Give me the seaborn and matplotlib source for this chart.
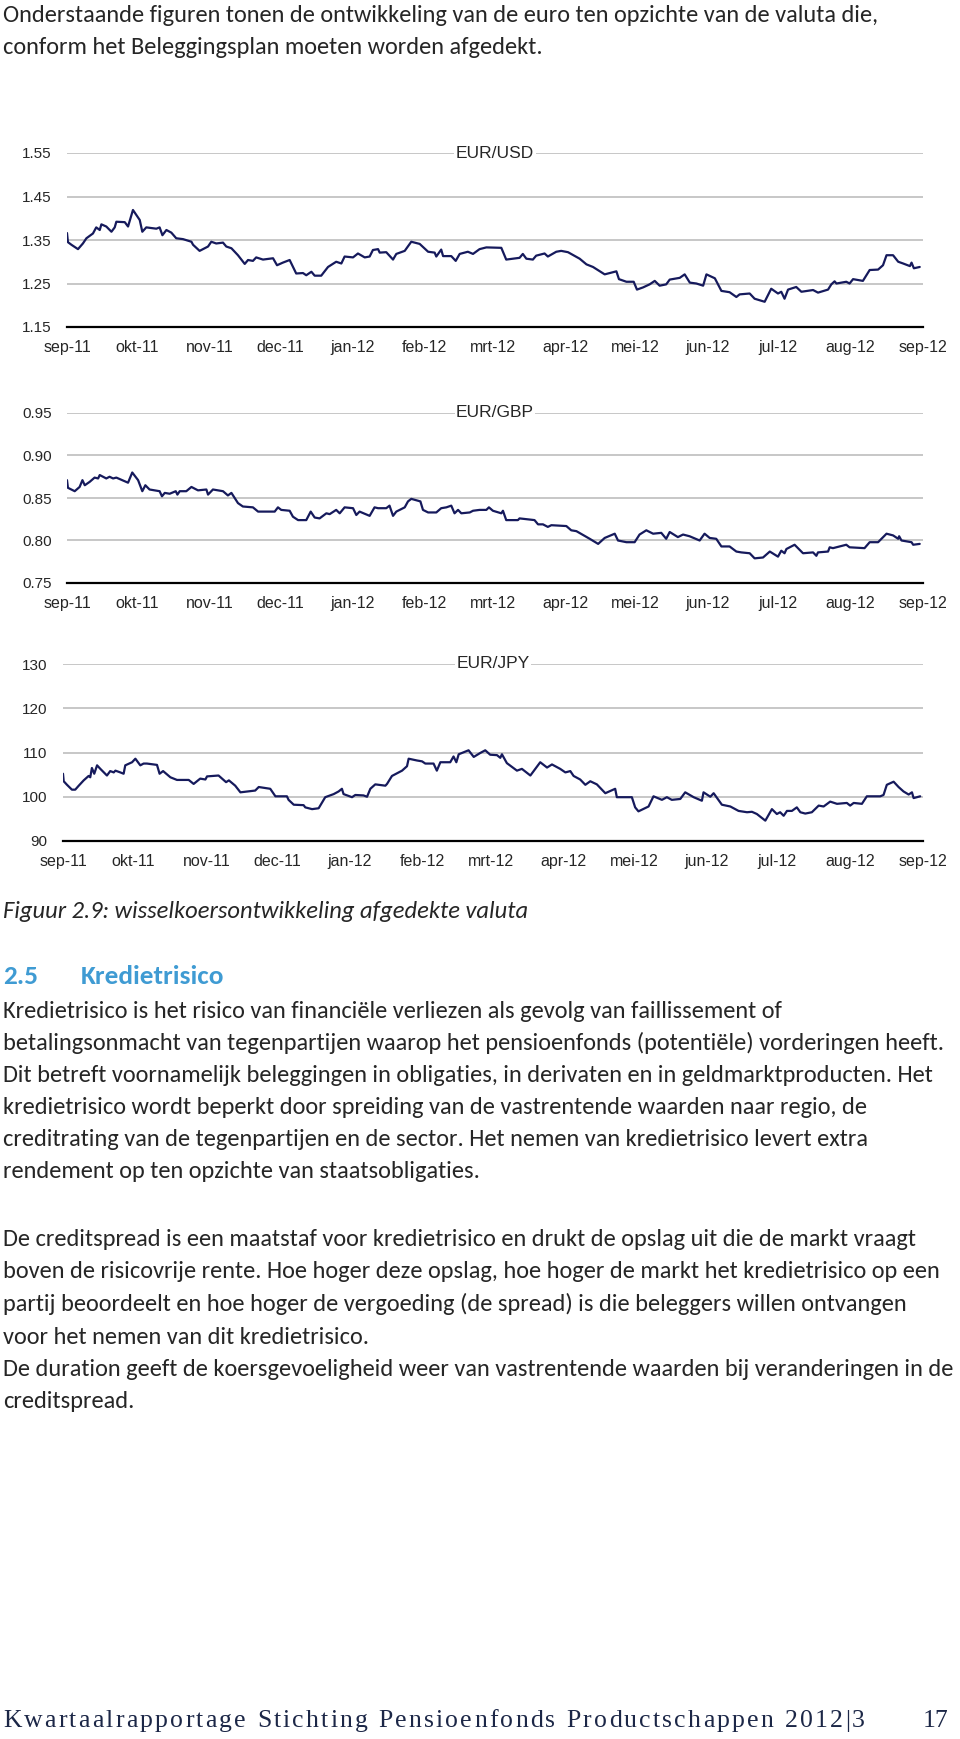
import pandas as pd
import numpy as np
import matplotlib
matplotlib.use("Agg")
import matplotlib.pyplot as plt
import seaborn as sns
from matplotlib import font_manager

# month ticks (Dutch)
month_labels = ["sep-11", "okt-11", "nov-11", "dec-11", "jan-12", "feb-12", "mrt-12",
                "apr-12", "mei-12", "jun-12", "jul-12", "aug-12", "sep-12"]
start_date = "2011-09-01"

# days since 1 sep 2011
usd_day = [0, 0.4, 1.9, 4.7, 6.8, 8.3, 11.1, 12.5, 14.0, 14.7, 16.8, 19.0, 20.4, 21.1, 24.7, 26.1,
           28.2, 31.1, 32.2, 33.9, 38.2, 39.6, 40.8, 42.5, 44.6, 46.7, 49.6, 53.2, 53.9, 56.7, 60.3,
           61.7, 63.8, 66.7, 68.1, 70.3, 73.1, 76.0, 77.4, 79.5, 80.9, 83.8, 88.1, 89.8, 92.3, 95.2,
           98.0, 100.9, 102.3, 104.5, 105.9, 108.7, 111.6, 115.1, 117.3, 118.7, 122.3, 124.4, 127.3,
           129.4, 130.8, 133.0, 133.7, 136.5, 139.4, 140.8, 144.4, 147.2, 150.8, 154.4, 157.2, 157.9,
           160.0, 160.8, 164.3, 166.2, 167.9, 171.4, 173.6, 176.4, 179.3, 185.7, 187.8, 193.5, 194.9,
           196.4, 199.2, 200.6, 204.2, 205.6, 209.2, 211.3, 214.2, 219.2, 222.1, 224.9, 229.9, 234.9,
           236.0, 239.2, 242.3, 243.7, 246.3, 249.1, 251.3, 253.4, 256.2, 257.7, 262.0, 264.1, 266.3,
           269.1, 272.0, 273.4, 277.0, 279.8, 283.3, 286.2, 287.6, 291.9, 294.0, 298.3, 301.1, 304.0,
           305.4, 306.8, 308.3, 311.8, 314.0, 319.0, 321.1, 325.4, 326.8, 328.2, 329.0, 333.2, 334.6,
           336.1, 340.3, 343.2, 346.8, 348.9, 350.4, 353.2, 355.4, 357.5, 360.4, 361.1, 362.1, 364.6]
usd_rate = [1.366, 1.345, 1.339, 1.329, 1.342, 1.354, 1.365, 1.379, 1.373, 1.386, 1.381, 1.369, 1.379,
            1.392, 1.391, 1.381, 1.419, 1.396, 1.369, 1.379, 1.376, 1.379, 1.361, 1.373, 1.367, 1.354,
            1.352, 1.346, 1.339, 1.325, 1.335, 1.346, 1.342, 1.344, 1.335, 1.331, 1.315, 1.295, 1.304,
            1.302, 1.310, 1.305, 1.308, 1.292, 1.298, 1.304, 1.273, 1.274, 1.269, 1.277, 1.268, 1.268,
            1.288, 1.300, 1.296, 1.312, 1.310, 1.319, 1.310, 1.312, 1.327, 1.329, 1.321, 1.322, 1.305,
            1.318, 1.325, 1.346, 1.341, 1.323, 1.321, 1.312, 1.328, 1.313, 1.313, 1.302, 1.318, 1.323,
            1.318, 1.329, 1.333, 1.332, 1.305, 1.309, 1.318, 1.307, 1.305, 1.314, 1.319, 1.312, 1.323,
            1.325, 1.322, 1.307, 1.294, 1.288, 1.271, 1.278, 1.260, 1.254, 1.254, 1.236, 1.241, 1.248,
            1.256, 1.245, 1.248, 1.259, 1.263, 1.271, 1.252, 1.250, 1.245, 1.271, 1.262, 1.233, 1.230,
            1.219, 1.225, 1.227, 1.215, 1.208, 1.238, 1.227, 1.231, 1.215, 1.236, 1.242, 1.231, 1.235,
            1.229, 1.236, 1.248, 1.255, 1.250, 1.254, 1.250, 1.260, 1.256, 1.281, 1.282, 1.292, 1.315,
            1.315, 1.300, 1.296, 1.290, 1.298, 1.285, 1.288]

gbp_day = [0, 0.4, 3.3, 5.4, 6.6, 7.6, 9.7, 11.8, 13.3, 14.0, 16.8, 18.2, 19.7, 21.1, 26.1, 27.9, 30.4,
           32.2, 33.5, 35.3, 39.6, 40.6, 41.8, 43.9, 46.5, 47.2, 48.2, 51.0, 53.2, 56.0, 59.6, 60.3,
           62.4, 66.7, 68.8, 70.3, 73.1, 75.2, 79.5, 81.7, 88.8, 90.2, 91.6, 95.2, 96.6, 98.8, 102.3,
           104.2, 105.9, 108.0, 110.9, 112.3, 115.1, 116.6, 118.7, 122.3, 123.7, 125.1, 129.4, 131.5,
           133.0, 136.5, 137.9, 139.4, 140.8, 144.4, 145.8, 147.2, 151.1, 152.2, 154.4, 157.9, 160.0,
           162.2, 164.3, 165.7, 167.2, 168.6, 172.2, 173.6, 176.4, 179.3, 180.4, 182.1, 185.7, 186.4,
           187.8, 192.8, 193.5, 199.9, 201.4, 203.5, 205.6, 207.1, 213.5, 215.6, 217.8, 223.5, 227.1,
           229.9, 234.2, 235.6, 239.2, 242.7, 244.8, 247.7, 250.6, 254.1, 256.2, 257.7, 261.2, 263.4,
           266.2, 270.5, 272.6, 274.8, 277.6, 279.8, 283.3, 286.2, 288.3, 291.9, 294.0, 297.6, 300.5,
           304.0, 305.4, 306.8, 307.6, 311.1, 314.7, 319.0, 320.4, 321.1, 325.4, 326.1, 327.5, 333.2,
           334.6, 341.0, 343.2, 346.8, 350.4, 353.2, 355.4, 355.8, 356.8, 361.1, 361.8, 364.6]
gbp_rate = [0.871, 0.862, 0.858, 0.863, 0.871, 0.865, 0.869, 0.874, 0.873, 0.877, 0.873, 0.875, 0.873,
            0.874, 0.868, 0.880, 0.871, 0.858, 0.865, 0.860, 0.858, 0.852, 0.856, 0.855, 0.858, 0.854,
            0.858, 0.858, 0.863, 0.859, 0.860, 0.854, 0.860, 0.858, 0.853, 0.856, 0.844, 0.840, 0.839,
            0.834, 0.834, 0.839, 0.836, 0.835, 0.828, 0.824, 0.824, 0.834, 0.827, 0.826, 0.832, 0.831,
            0.836, 0.832, 0.839, 0.838, 0.830, 0.834, 0.829, 0.839, 0.838, 0.838, 0.841, 0.829, 0.834,
            0.839, 0.846, 0.849, 0.846, 0.836, 0.833, 0.833, 0.838, 0.839, 0.841, 0.832, 0.836, 0.832,
            0.833, 0.835, 0.836, 0.836, 0.839, 0.835, 0.832, 0.835, 0.824, 0.824, 0.826, 0.824, 0.819,
            0.819, 0.816, 0.818, 0.817, 0.812, 0.811, 0.802, 0.796, 0.803, 0.808, 0.800, 0.798, 0.798,
            0.807, 0.812, 0.808, 0.809, 0.802, 0.810, 0.804, 0.807, 0.805, 0.800, 0.808, 0.803, 0.802,
            0.793, 0.793, 0.787, 0.786, 0.785, 0.779, 0.780, 0.787, 0.781, 0.788, 0.785, 0.790, 0.795,
            0.785, 0.786, 0.782, 0.786, 0.787, 0.792, 0.791, 0.795, 0.792, 0.791, 0.798, 0.798, 0.808,
            0.806, 0.802, 0.805, 0.800, 0.798, 0.795, 0.796]

jpy_day = [0, 0.3, 1.7, 3.8, 5.2, 6.7, 8.8, 10.9, 11.6, 12.3, 13.3, 14.5, 15.9, 18.7, 20.1, 21.6, 22.3,
           24.4, 25.8, 26.5, 29.4, 30.8, 32.9, 34.3, 35.7, 40.0, 41.1, 42.6, 45.7, 48.5, 53.5, 55.6,
           58.4, 60.6, 61.3, 66.2, 69.4, 70.6, 73.3, 75.5, 81.8, 83.3, 88.2, 90.4, 95.3, 96.0, 98.2,
           102.4, 103.1, 106.0, 108.8, 111.6, 115.2, 117.3, 118.7, 119.4, 123.0, 124.4, 127.9, 129.4,
           130.8, 132.9, 137.2, 137.9, 140.0, 144.3, 146.4, 147.1, 150.6, 152.8, 154.2, 157.7, 159.1,
           160.6, 164.8, 166.2, 167.4, 168.4, 172.6, 174.8, 177.6, 179.7, 181.8, 184.7, 186.1, 186.8,
           188.9, 193.2, 195.3, 198.9, 203.1, 206.0, 208.1, 211.6, 213.8, 215.9, 217.3, 220.1, 222.3,
           224.4, 227.2, 230.8, 235.0, 235.7, 242.1, 243.5, 244.9, 249.2, 251.3, 254.9, 257.0, 259.1,
           262.7, 264.8, 268.4, 271.9, 272.6, 275.5, 276.9, 280.4, 284.0, 287.5, 291.1, 293.2, 295.3,
           298.9, 301.7, 303.8, 305.2, 306.7, 308.1, 310.2, 312.3, 313.8, 315.9, 318.7, 321.6, 323.7,
           326.5, 329.4, 333.6, 335.0, 336.5, 340.0, 342.1, 347.8, 349.2, 350.6, 353.5, 355.6, 357.7,
           359.9, 361.3, 362.0, 364.8]
jpy_rate = [105.2, 103.5, 102.7, 101.6, 101.6, 102.5, 103.7, 104.7, 104.4, 106.5, 105.2, 107.1, 106.3,
            104.8, 105.8, 105.5, 105.9, 105.5, 105.2, 107.1, 107.8, 108.6, 107.1, 107.5, 107.5, 107.2,
            105.2, 105.8, 104.4, 103.8, 103.8, 102.9, 104.1, 103.9, 104.6, 104.8, 103.3, 103.7, 102.5,
            101.0, 101.4, 102.2, 101.8, 100.1, 100.1, 99.3, 98.2, 98.1, 97.6, 97.2, 97.4, 99.9, 100.6,
            101.2, 101.8, 100.6, 99.9, 100.4, 100.3, 100.0, 101.8, 102.8, 102.5, 102.9, 104.7, 105.9,
            106.9, 108.6, 108.2, 108.0, 107.5, 107.5, 105.9, 107.8, 107.8, 109.1, 107.8, 109.6, 110.5,
            109.0, 109.9, 110.5, 109.5, 109.4, 108.8, 109.6, 107.6, 105.9, 106.3, 104.8, 107.8, 106.6,
            107.3, 106.3, 105.5, 105.8, 104.7, 103.9, 102.7, 103.5, 102.8, 100.8, 101.8, 99.9, 99.9,
            97.6, 96.7, 97.8, 100.1, 99.3, 99.9, 99.3, 99.5, 101.0, 99.9, 99.1, 101.0, 100.0, 100.8,
            98.2, 97.8, 96.8, 96.5, 96.6, 96.1, 94.6, 97.2, 96.1, 96.5, 95.7, 96.8, 96.8, 97.6, 96.5,
            96.2, 96.5, 98.0, 97.8, 98.9, 98.4, 98.6, 98.0, 98.6, 98.4, 100.1, 100.1, 100.4, 102.7,
            103.4, 102.2, 101.2, 100.5, 101.0, 99.7, 100.1]

usd_ticks = [1.15, 1.25, 1.35, 1.45, 1.55]
usd_tick_labels = ["1.15", "1.25", "1.35", "1.45", "1.55"]
gbp_ticks = [0.75, 0.80, 0.85, 0.90, 0.95]
gbp_tick_labels = ["0.75", "0.80", "0.85", "0.90", "0.95"]
jpy_ticks = [90, 100, 110, 120, 130]
jpy_tick_labels = ["90", "100", "110", "120", "130"]

intro_lines = ["Onderstaande figuren tonen de ontwikkeling van de euro ten opzichte van de valuta die,",
               "conform het Beleggingsplan moeten worden afgedekt."]
caption = "Figuur 2.9: wisselkoersontwikkeling afgedekte valuta"
heading_nr = "2.5"
heading = "Kredietrisico"
body_lines = [
    "Kredietrisico is het risico van financiële verliezen als gevolg van faillissement of",
    "betalingsonmacht van tegenpartijen waarop het pensioenfonds (potentiële) vorderingen heeft.",
    "Dit betreft voornamelijk beleggingen in obligaties, in derivaten en in geldmarktproducten. Het",
    "kredietrisico wordt beperkt door spreiding van de vastrentende waarden naar regio, de",
    "creditrating van de tegenpartijen en de sector. Het nemen van kredietrisico levert extra",
    "rendement op ten opzichte van staatsobligaties.",
    "De creditspread is een maatstaf voor kredietrisico en drukt de opslag uit die de markt vraagt",
    "boven de risicovrije rente. Hoe hoger deze opslag, hoe hoger de markt het kredietrisico op een",
    "partij beoordeelt en hoe hoger de vergoeding (de spread) is die beleggers willen ontvangen",
    "voor het nemen van dit kredietrisico.",
    "De duration geeft de koersgevoeligheid weer van vastrentende waarden bij veranderingen in de",
    "creditspread.",
]
footer = "Kwartaalrapportage Stichting Pensioenfonds Productschappen 2012|3"
page_nr = "17"

W, H = 960, 1739
LINE = "#161a5c"

sns.set_style("white")
plt.rcParams["font.family"] = ["Liberation Sans", "DejaVu Sans"]

installed = {f.name for f in font_manager.fontManager.ttflist}
body_font = next(f for f in ["Carlito", "Lato", "Open Sans", "DejaVu Sans"] if f in installed)
serif_font = next(f for f in ["Liberation Serif", "DejaVu Serif"] if f in installed)

fig = plt.figure(figsize=(W / 100, H / 100), dpi=100)
renderer = fig.canvas.get_renderer()


def fy(y):
    return 1 - y / H


def text_width(text, size, **kw):
    t = fig.text(0, 0, text, fontsize=size, **kw)
    w = t.get_window_extent(renderer).width
    t.remove()
    return w


def draw_chart(days, rates, ticks, tick_labels, title, left, top, bottom):
    ax = fig.add_axes([left / W, fy(bottom), (923 - left) / W, (bottom - top) / H])
    df = pd.DataFrame({
        "date": pd.Timestamp(start_date) + pd.to_timedelta(days, unit="D"),
        "rate": rates,
    })
    sns.lineplot(data=df, x="date", y="rate", ax=ax, color=LINE, lw=1.6, estimator=None)
    months = pd.date_range(start_date, periods=len(month_labels), freq="MS")
    ax.set_xlim(months[0], months[-1])
    ax.set_ylim(ticks[0], ticks[-1])
    ax.set_xticks(months)
    ax.set_xticklabels(month_labels, fontsize=11.5, va="baseline")
    ax.set_yticks(ticks)
    ax.set_yticklabels(tick_labels, fontsize=11)
    ax.set_xlabel("")
    ax.set_ylabel("")
    ax.grid(axis="y", color="#bdbdbd", lw=1.2)
    ax.set_axisbelow(True)
    for s in ["top", "left", "right"]:
        ax.spines[s].set_visible(False)
    ax.spines["bottom"].set_color("black")
    ax.spines["bottom"].set_linewidth(1.6)
    ax.tick_params(axis="x", length=3, width=1.1, color="black", pad=15)
    ax.tick_params(axis="y", length=0, pad=11)
    ax.text(0.5, 1.0, title, transform=ax.transAxes, ha="center", va="center", fontsize=12.5,
            bbox=dict(facecolor="white", edgecolor="none", pad=1))
    return ax


draw_chart(usd_day, usd_rate, usd_ticks, usd_tick_labels, "EUR/USD", 67, 153, 327)
draw_chart(gbp_day, gbp_rate, gbp_ticks, gbp_tick_labels, "EUR/GBP", 67, 413, 583)
draw_chart(jpy_day, jpy_rate, jpy_ticks, jpy_tick_labels, "EUR/JPY", 63, 664, 841)

# page text, sized so the widest line fits the text column
widest = max(text_width(l, 20, family=body_font) for l in body_lines)
body_size = 20 * 950 / widest
for line, y in zip(intro_lines, [15, 47]):
    fig.text(3 / W, fy(y), line, fontsize=body_size, family=body_font, va="center")

cap_size = 20 * 524 / text_width(caption, 20, family=body_font, style="italic")
fig.text(3 / W, fy(912), caption, fontsize=cap_size, family=body_font, style="italic", va="center")

head_size = body_size * 1.12
fig.text(3 / W, fy(977), heading_nr, fontsize=head_size, family=body_font, weight="bold",
         color="#3f9bd3", va="center")
fig.text(81 / W, fy(977), heading, fontsize=head_size, family=body_font, weight="bold",
         color="#3f9bd3", va="center")

body_y = [1011, 1043, 1075, 1108, 1140, 1172, 1240, 1272, 1304, 1337, 1369, 1401]
for line, y in zip(body_lines, body_y):
    fig.text(3 / W, fy(y), line, fontsize=body_size, family=body_font, va="center")

# footer: serif with light tracking, spread over the line width
foot_size = 18.5
foot_kw = dict(fontsize=foot_size, family=serif_font, color="#1c2747", va="baseline")
bar_w = text_width("|", foot_size, family=serif_font)
full_w = text_width(footer, foot_size, family=serif_font)
track = max(0, (862 - full_w) / (len(footer) - 1))
for i, ch in enumerate(footer):
    if ch == " ":
        continue
    x = 3 + text_width(footer[:i] + "|", foot_size, family=serif_font) - bar_w + i * track
    fig.text(x / W, fy(1727), ch, **foot_kw)
fig.text(948 / W, fy(1727), page_nr, ha="right", **foot_kw)

fig.savefig("out.png", dpi=100)
